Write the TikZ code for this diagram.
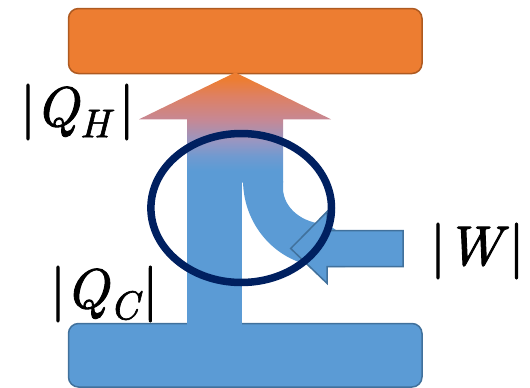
\documentclass[tikz,border=0pt]{standalone}
\usepackage{fontspec}
\newfontfamily\lblfont{lmroman10-regular.otf}[ItalicFont=lmroman10-italic.otf, FakeBold=1.6, ItalicFeatures={FakeBold=1.6}]
\definecolor{orng}{RGB}{237,125,49}
\definecolor{orngdk}{RGB}{174,90,33}
\definecolor{blu}{RGB}{91,155,213}
\definecolor{bludk}{RGB}{65,113,156}
\definecolor{navy}{RGB}{0,32,96}
\definecolor{slm}{RGB}{222,128,98}
\definecolor{pnk}{RGB}{198,136,148}
\definecolor{lav}{RGB}{152,150,194}
\definecolor{lblu}{RGB}{112,154,208}
\pgfdeclareverticalshading{heat}{100bp}{color(0bp)=(blu); color(30.5bp)=(blu); color(37bp)=(lblu); color(44bp)=(lav); color(53.6bp)=(pnk); color(64.5bp)=(slm); color(72bp)=(orng); color(100bp)=(orng)}
\newcommand{\mysub}[1]{\raisebox{-0.2em}{\fontsize{40}{40}\selectfont\itshape #1}}
\begin{document}
\begin{tikzpicture}[x=1pt,y=-1pt,
  box/.style={rounded corners=10pt, line width=1.5pt},
  lbl/.style={anchor=base west, inner sep=0pt, font=\fontsize{56}{60}\lblfont}]
\useasboundingbox (0,0) rectangle (530,388);
% reservoirs
\draw[box, fill=orng, draw=orngdk] (68.5,8.5) rectangle (422,73.5);
\draw[box, fill=blu, draw=bludk] (68.5,323.5) rectangle (422,387);
% narrow shaft
\fill[blu] (187,181) rectangle (242,325);
% curved band
\fill[blu] (243,181) -- (283,181) -- (283,188)
  arc[start angle=180,end angle=90,x radius=44,y radius=36]
  -- (345,236) -- (345,267) -- (327,267)
  arc[start angle=90,end angle=180,x radius=84,y radius=87] -- cycle;
% up arrow with gradient
\shade[shading=heat]
  (187,182.5) -- (187,119.3) -- (139,119.3) -- (235.3,72.5) -- (331,119.3)
  -- (283,119.3) -- (283,182.5) -- cycle;
% work arrow
\draw[fill=blu, draw=bludk, line width=1.5pt, line join=miter]
  (403,230.7) -- (327,230.7) -- (327,211.7) -- (290.7,248.5) -- (327,283.3)
  -- (327,266.7) -- (403,266.7) -- cycle;
% ellipse
\draw[navy, line width=7.5pt] (241.2,208) ellipse [x radius=90.3, y radius=74.5];
% labels
\node[lbl] (qh) at (20,126) {|\textit{Q}\mysub{H}\,|};
\node[lbl] (qc) at (50,308) {|\textit{Q}\mysub{C}\kern4pt|};
\node[lbl] (w) at (430,265) {|\textit{W}|};
\end{tikzpicture}
\end{document}
